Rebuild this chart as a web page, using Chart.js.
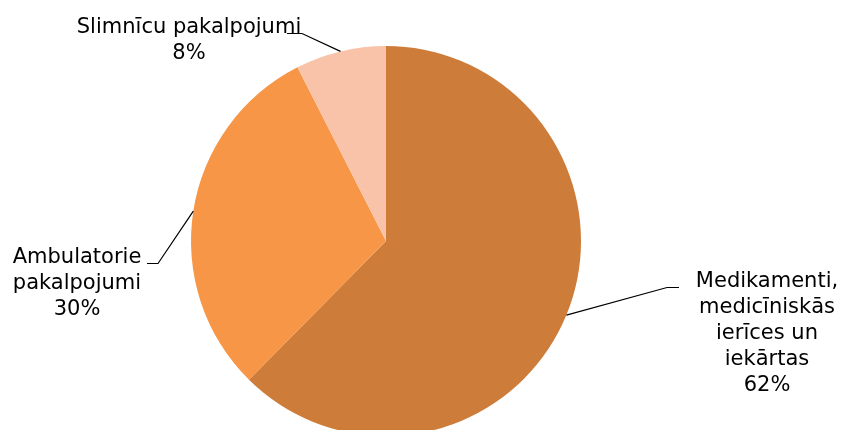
<!DOCTYPE html>
<html>
<head>
<meta charset="utf-8">
<script src="https://cdn.jsdelivr.net/npm/chart.js@4.4.0/dist/chart.umd.min.js"></script>
<style>
html,body{margin:0;padding:0;background:#fff;overflow:hidden;}
#wrap{width:842px;height:440px;position:relative;}
</style>
</head>
<body>
<div id="wrap"><canvas id="c"></canvas></div>
<script>
// Data
const categories = [
  ["Medikamenti,", "medicīniskās", "ierīces un", "iekārtas"],
  ["Ambulatorie", "pakalpojumi"],
  ["Slimnīcu pakalpojumi"]
];
const shares = [62.4, 30.1, 7.5];
const sliceColors = ["#CD7C39", "#F79646", "#F9C3A9"];

// Label placement (text anchor and elbow relative to canvas)
const labelLayout = [
  {textX: 767, textY: 287, elbow: [667, 287.5], end: [679, 287.5]},
  {textX: 77,  textY: 263, elbow: [158, 263.5], end: [147, 263.5]},
  {textX: 189, textY: 33,  elbow: [302, 33.5],  end: [287, 33.5]}
];

const leaderLabels = {
  id: 'leaderLabels',
  afterDatasetsDraw(chart) {
    const ctx = chart.ctx;
    const meta = chart.getDatasetMeta(0);
    const total = shares.reduce((a, b) => a + b, 0);
    ctx.save();
    meta.data.forEach((arc, i) => {
      const p = arc.getProps(['x', 'y', 'startAngle', 'endAngle', 'outerRadius'], true);
      const mid = (p.startAngle + p.endAngle) / 2;
      const sx = p.x + Math.cos(mid) * p.outerRadius;
      const sy = p.y + Math.sin(mid) * p.outerRadius;
      const L = labelLayout[i];
      ctx.strokeStyle = '#000';
      ctx.lineWidth = 1.2;
      ctx.beginPath();
      ctx.moveTo(sx, sy);
      ctx.lineTo(L.elbow[0], L.elbow[1]);
      ctx.lineTo(L.end[0], L.end[1]);
      ctx.stroke();
      ctx.fillStyle = '#000';
      ctx.font = '21px "DejaVu Sans", Verdana, sans-serif';
      ctx.textAlign = 'center';
      ctx.textBaseline = 'alphabetic';
      const lines = categories[i].concat([Math.round(shares[i] / total * 100) + '%']);
      lines.forEach((t, k) => ctx.fillText(t, L.textX, L.textY + k * 26));
    });
    ctx.restore();
  }
};

new Chart(document.getElementById('c'), {
  type: 'pie',
  data: {
    labels: categories.map(c => c.join(' ')),
    datasets: [{
      data: shares,
      backgroundColor: sliceColors,
      borderWidth: 0,
      hoverOffset: 0
    }]
  },
  options: {
    responsive: true,
    maintainAspectRatio: false,
    animation: false,
    layout: {padding: {top: 46, bottom: 4, left: 0, right: 70}},
    plugins: {legend: {display: false}, tooltip: {enabled: false}}
  },
  plugins: [leaderLabels]
});
</script>
</body>
</html>
